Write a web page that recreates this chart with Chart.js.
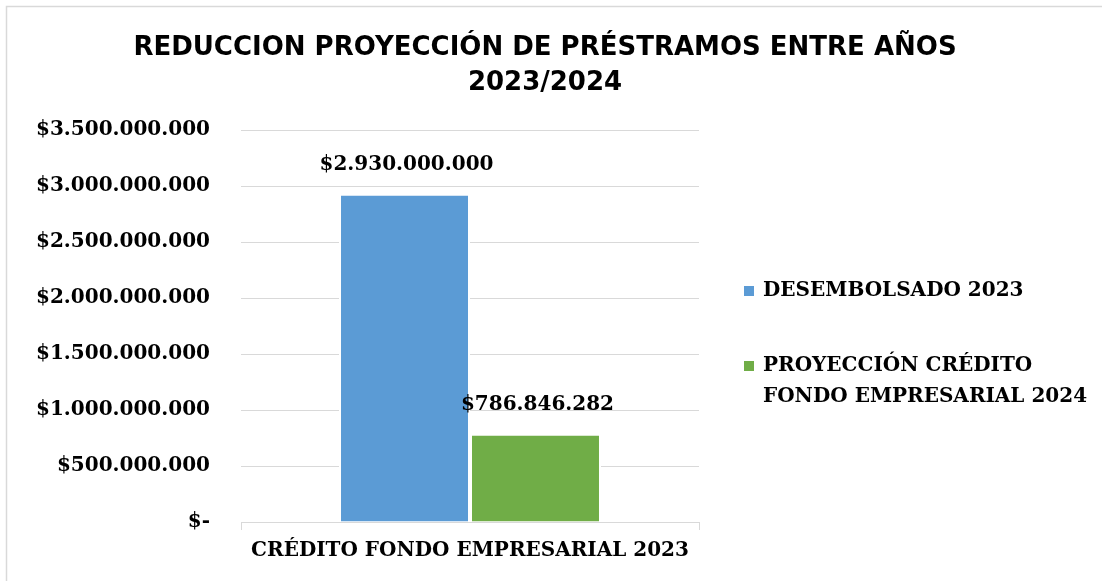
<!DOCTYPE html>
<html>
<head>
<meta charset="utf-8">
<script src="https://cdn.jsdelivr.net/npm/chart.js@4/dist/chart.umd.min.js"></script>
<style>
  html, body { margin: 0; padding: 0; background: #fff; overflow: hidden; }
  canvas { display: block; }
</style>
</head>
<body>
<canvas id="chart" width="1102" height="581"></canvas>
<script>
const categories = ['CRÉDITO FONDO EMPRESARIAL 2023'];
const seriesNames = ['DESEMBOLSADO 2023', 'PROYECCIÓN CRÉDITO FONDO EMPRESARIAL 2024'];
const desembolsado2023 = [2930000000];
const proyeccion2024 = [786846282];
const yTicks = [0, 500000000, 1000000000, 1500000000, 2000000000, 2500000000, 3000000000, 3500000000];
const titleLines = ['REDUCCION PROYECCIÓN DE PRÉSTRAMOS ENTRE AÑOS', '2023/2024'];

const serif = "'DejaVu Serif', serif";
const blue = '#5B9BD5';
const green = '#70AD47';

// $2.930.000.000 style
const money = v => v === 0 ? '$-' : '$' + String(Math.round(v)).replace(/\B(?=(\d{3})+(?!\d))/g, '.');

// frame (top + left edge visible) and title centred on the full width
const framePlugin = {
  id: 'frame',
  beforeDraw(chart) {
    const { ctx } = chart;
    ctx.save();
    ctx.fillStyle = '#fff';
    ctx.fillRect(0, 0, chart.width, chart.height);
    ctx.strokeStyle = '#d9d9d9';
    ctx.lineWidth = 1.5;
    ctx.beginPath();
    ctx.moveTo(6.5, chart.height);
    ctx.lineTo(6.5, 6.5);
    ctx.lineTo(chart.width, 6.5);
    ctx.stroke();
    ctx.font = "bold 26px 'DejaVu Sans', sans-serif";
    ctx.fillStyle = '#000';
    ctx.textAlign = 'center';
    ctx.textBaseline = 'middle';
    titleLines.forEach((t, i) => ctx.fillText(t, 545, 48 + i * 35));
    ctx.restore();
  }
};

// value labels above the bars
const valueLabels = {
  id: 'valueLabels',
  afterDatasetsDraw(chart) {
    const { ctx } = chart;
    ctx.save();
    ctx.font = 'bold 20px ' + serif;
    ctx.fillStyle = '#000';
    ctx.textAlign = 'center';
    ctx.textBaseline = 'middle';
    chart.data.datasets.forEach((ds, i) => {
      chart.getDatasetMeta(i).data.forEach((bar, j) => {
        ctx.fillText(money(ds.data[j]), bar.x + 2, bar.y - 29);
      });
    });
    ctx.restore();
  }
};

// legend on the right, wrapped like the original
const sideLegend = {
  id: 'sideLegend',
  afterDraw(chart) {
    const { ctx } = chart;
    const x = 744, textX = 763, maxW = 335, lineH = 31;
    let y = 291;
    ctx.save();
    ctx.font = 'bold 20px ' + serif;
    ctx.textBaseline = 'middle';
    chart.data.datasets.forEach(ds => {
      const words = ds.label.split(' ');
      const lines = [];
      let cur = '';
      words.forEach(w => {
        const t = cur ? cur + ' ' + w : w;
        if (ctx.measureText(t).width > maxW && cur) { lines.push(cur); cur = w; } else cur = t;
      });
      lines.push(cur);
      ctx.fillStyle = ds.backgroundColor;
      ctx.fillRect(x, y - 5, 10, 10);
      ctx.fillStyle = '#000';
      lines.forEach((l, k) => ctx.fillText(l, textX, y + k * lineH));
      y += 75;
    });
    ctx.restore();
  }
};

new Chart(document.getElementById('chart'), {
  type: 'bar',
  data: {
    labels: categories,
    datasets: [{
      label: seriesNames[0],
      data: desembolsado2023,
      backgroundColor: blue,
      borderColor: '#fff',
      borderWidth: 2
    }, {
      label: seriesNames[1],
      data: proyeccion2024,
      backgroundColor: green,
      borderColor: '#fff',
      borderWidth: 2
    }]
  },
  options: {
    responsive: false,
    animation: false,
    categoryPercentage: 0.572,
    barPercentage: 1,
    layout: { padding: { top: 130, right: 403, bottom: 9, left: 0 } },
    plugins: {
      legend: { display: false },
      tooltip: { enabled: false },
      title: { display: false }
    },
    scales: {
      x: {
        grid: { offset: true, drawOnChartArea: false, tickLength: 8, color: '#d9d9d9' },
        border: { color: '#d9d9d9' },
        ticks: { color: '#000', padding: 9, font: { family: serif, weight: 'bold', size: 20 } }
      },
      y: {
        min: 0,
        max: 3500000000,
        afterFit(scale) { scale.width = 241; },
        afterBuildTicks(scale) { scale.ticks = yTicks.map(v => ({ value: v })); },
        grid: { drawTicks: false, color: '#d9d9d9' },
        border: { display: false },
        ticks: {
          color: '#000',
          padding: 31,
          font: { family: serif, weight: 'bold', size: 20 },
          callback: v => money(v)
        }
      }
    }
  },
  plugins: [framePlugin, valueLabels, sideLegend]
});
</script>
</body>
</html>
